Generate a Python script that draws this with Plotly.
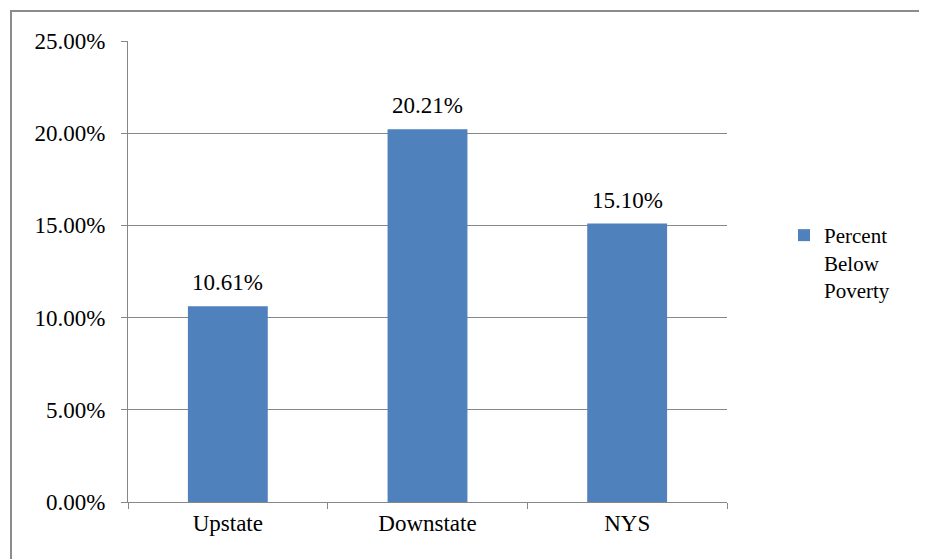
import plotly.graph_objects as go

# data
regions = ["Upstate", "Downstate", "NYS"]
pct_below_poverty = [0.1061, 0.2021, 0.1510]
y_ticks = [0, 0.05, 0.10, 0.15, 0.20, 0.25]

# the page body adds an 8px offset, so work in shifted coordinates
OFF = 8
W, H = 927 - OFF, 559 - OFF
L, T = 128 - OFF, 41 - OFF
R, B = W - (727 - OFF), H - (502 - OFF)
pw, ph = W - L - R, H - T - B

FONT = "Liberation Serif"
FS = 23
GRID = "#878787"
BAR = "#4F81BD"

fig = go.Figure()

fig.add_trace(
    go.Bar(
        x=regions,
        y=pct_below_poverty,
        name="Percent<br>Below<br>Poverty",
        marker=dict(color=BAR, line=dict(width=0)),
    )
)

# data labels sit a little higher above the bars than plotly's "outside" text
for reg, val in zip(regions, pct_below_poverty):
    fig.add_annotation(
        x=reg,
        y=val,
        text=f"{val:.2%}",
        showarrow=False,
        yanchor="bottom",
        yshift=9,
        font=dict(family=FONT, size=FS, color="black"),
    )

# outer chart border (Excel-style frame), partly running off the picture
fig.add_shape(
    type="rect",
    xref="paper",
    yref="paper",
    x0=(11 - OFF - L) / pw,
    x1=(W + 5 - L) / pw,
    y0=-(B + 5) / ph,
    y1=1 + (T - (11 - OFF)) / ph,
    line=dict(color="#8c8c8c", width=2),
    layer="below",
)

fig.update_layout(
    width=W,
    height=H,
    margin=dict(l=L, r=R, t=T, b=B, pad=0),
    plot_bgcolor="white",
    paper_bgcolor="white",
    font=dict(family=FONT, size=FS, color="black"),
    bargap=0.6,
    showlegend=True,
    legend=dict(
        x=1 + (784 - 727) / pw,
        xanchor="left",
        y=1 - (215 - 41) / ph,
        yanchor="top",
        valign="top",
        font=dict(family=FONT, size=21, color="black"),
        bgcolor="rgba(0,0,0,0)",
        itemwidth=30,
    ),
)

fig.update_xaxes(
    showline=True,
    linecolor=GRID,
    linewidth=1,
    ticks="outside",
    tickson="boundaries",
    ticklen=6,
    tickcolor=GRID,
    showgrid=False,
    tickfont=dict(family=FONT, size=FS),
)

fig.update_yaxes(
    range=[0, 0.25],
    tickvals=y_ticks,
    tickformat=".2%",
    showline=True,
    linecolor=GRID,
    linewidth=1,
    ticks="outside",
    ticklen=6,
    tickcolor=GRID,
    showgrid=True,
    gridcolor=GRID,
    gridwidth=1,
    zeroline=False,
    ticklabelstandoff=11,
    tickfont=dict(family=FONT, size=FS),
)

fig.write_html("out.html")
